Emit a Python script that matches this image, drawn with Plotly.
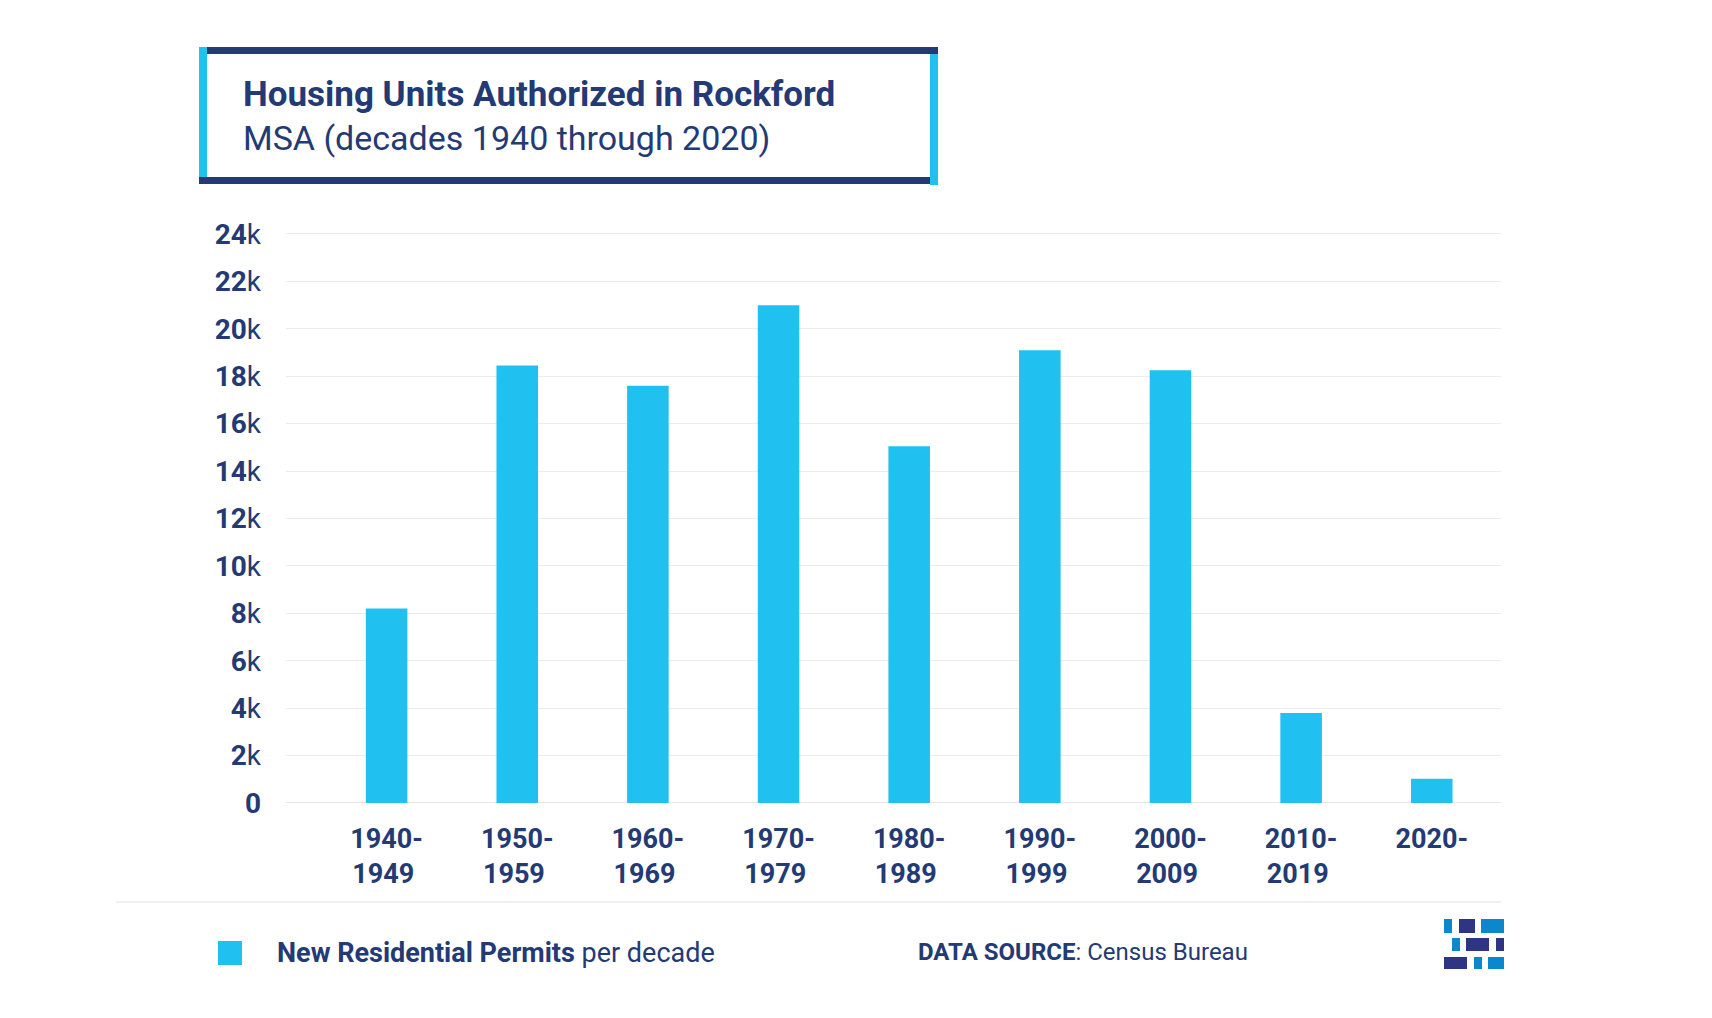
import plotly.graph_objects as go

# ---- data ----
decades = ["1940-<br>1949\u00a0", "1950-<br>1959\u00a0", "1960-<br>1969\u00a0", "1970-<br>1979\u00a0",
           "1980-<br>1989\u00a0", "1990-<br>1999\u00a0", "2000-<br>2009\u00a0", "2010-<br>2019\u00a0", "2020-"]
permits = [8200, 18450, 17600, 21000, 15050, 19100, 18250, 3800, 1020]
y_tick_vals = [0, 2000, 4000, 6000, 8000, 10000, 12000, 14000, 16000, 18000, 20000, 22000, 24000]
y_tick_text = ["<b>0</b>"] + ["<b>%d</b>k" % (v // 1000) for v in y_tick_vals[1:]]

title_line1 = "Housing Units Authorized in Rockford"
title_line2 = "MSA (decades 1940 through 2020)"
legend_bold = "New Residential Permits"
legend_rest = " per decade"
source_bold = "DATA SOURCE"
source_rest = ": Census Bureau"

# ---- style ----
W, H = 1712, 1018
OFF = 8  # page body margin
NAVY = "#233a74"
CYAN = "#20c1f0"
LOGO_BLUE = "#0b87cc"
LOGO_NAVY = "#2d3584"
GRID = "#ececec"
FONT = "Roboto"


def px(x):
    return (x - OFF) / W


def py(y):
    return 1 - (y - OFF) / H


Y_TOP = 24100
y_zero_px, y_24k_px = 803, 234
y_top_px = y_zero_px - (y_zero_px - y_24k_px) * Y_TOP / 24000

fig = go.Figure()
fig.add_trace(go.Bar(
    x=decades, y=permits, marker=dict(color=CYAN, line=dict(width=0)),
    width=0.318, showlegend=False, hoverinfo="y"))

fig.update_layout(
    width=W, height=H,
    margin=dict(l=0, r=0, t=0, b=0, autoexpand=False),
    paper_bgcolor="white", plot_bgcolor="white",
    font=dict(family=FONT, color=NAVY),
    xaxis=dict(domain=[px(286), px(1501)], range=[-0.77, 8.53],
               showgrid=False, zeroline=False, showline=False,
               tickfont=dict(size=27, family=FONT, color=NAVY, weight="bold"),
               ticks="", ticklabelstandoff=17),
    yaxis=dict(domain=[py(y_zero_px), py(y_top_px)], range=[0, Y_TOP],
               tickvals=y_tick_vals, ticktext=y_tick_text,
               showgrid=True, gridcolor=GRID, gridwidth=1,
               zeroline=True, zerolinecolor="#e6e6e6", zerolinewidth=1,
               showline=False, ticks="",
               tickfont=dict(size=28, family=FONT, color=NAVY),
               ticklabelstandoff=24),
    bargap=0.68,
)

shapes = []


def rect(x0, y0, x1, y1, color):
    shapes.append(dict(type="rect", xref="paper", yref="paper",
                       x0=px(x0), x1=px(x1), y0=py(y1), y1=py(y0),
                       fillcolor=color, line=dict(width=0), layer="above"))


# title box
rect(199, 47, 938, 184, "white")
rect(207, 47, 938, 54, NAVY)
rect(199, 177, 930, 184, NAVY)
rect(199, 47, 207, 177, CYAN)
rect(930, 54, 938, 185, CYAN)

# footer separator
shapes.append(dict(type="line", xref="paper", yref="paper",
                   x0=px(116), x1=px(1501), y0=py(902), y1=py(902),
                   line=dict(color="#f0f0f0", width=2)))

# legend swatch
rect(218, 941, 242, 965, CYAN)

# logo
rect(1444, 919, 1452, 933, LOGO_BLUE)
rect(1459, 919, 1475, 933, LOGO_NAVY)
rect(1481, 919, 1504, 933, LOGO_BLUE)
rect(1452, 938, 1460, 951, LOGO_BLUE)
rect(1466, 938, 1489, 951, LOGO_NAVY)
rect(1496, 938, 1504, 951, LOGO_NAVY)
rect(1444, 957, 1467, 969, LOGO_NAVY)
rect(1474, 957, 1482, 969, LOGO_BLUE)
rect(1488, 957, 1504, 969, LOGO_BLUE)

fig.update_layout(shapes=shapes)

annotations = [
    dict(text="<b>%s</b>" % title_line1, x=px(241), y=py(95), xanchor="left", yanchor="middle",
         font=dict(size=35, family=FONT, color=NAVY)),
    dict(text=title_line2, x=px(241), y=py(138), xanchor="left", yanchor="middle",
         font=dict(size=34, family=FONT, color=NAVY)),
    dict(text="<b>%s</b>%s" % (legend_bold, legend_rest), x=px(275), y=py(953),
         xanchor="left", yanchor="middle", font=dict(size=27, family=FONT, color=NAVY)),
    dict(text="<b>%s</b>%s" % (source_bold, source_rest), x=px(916), y=py(952),
         xanchor="left", yanchor="middle", font=dict(size=24, family=FONT, color=NAVY)),
]
for a in annotations:
    a.update(xref="paper", yref="paper", showarrow=False)
fig.update_layout(annotations=annotations)

fig.write_html("out.html")
